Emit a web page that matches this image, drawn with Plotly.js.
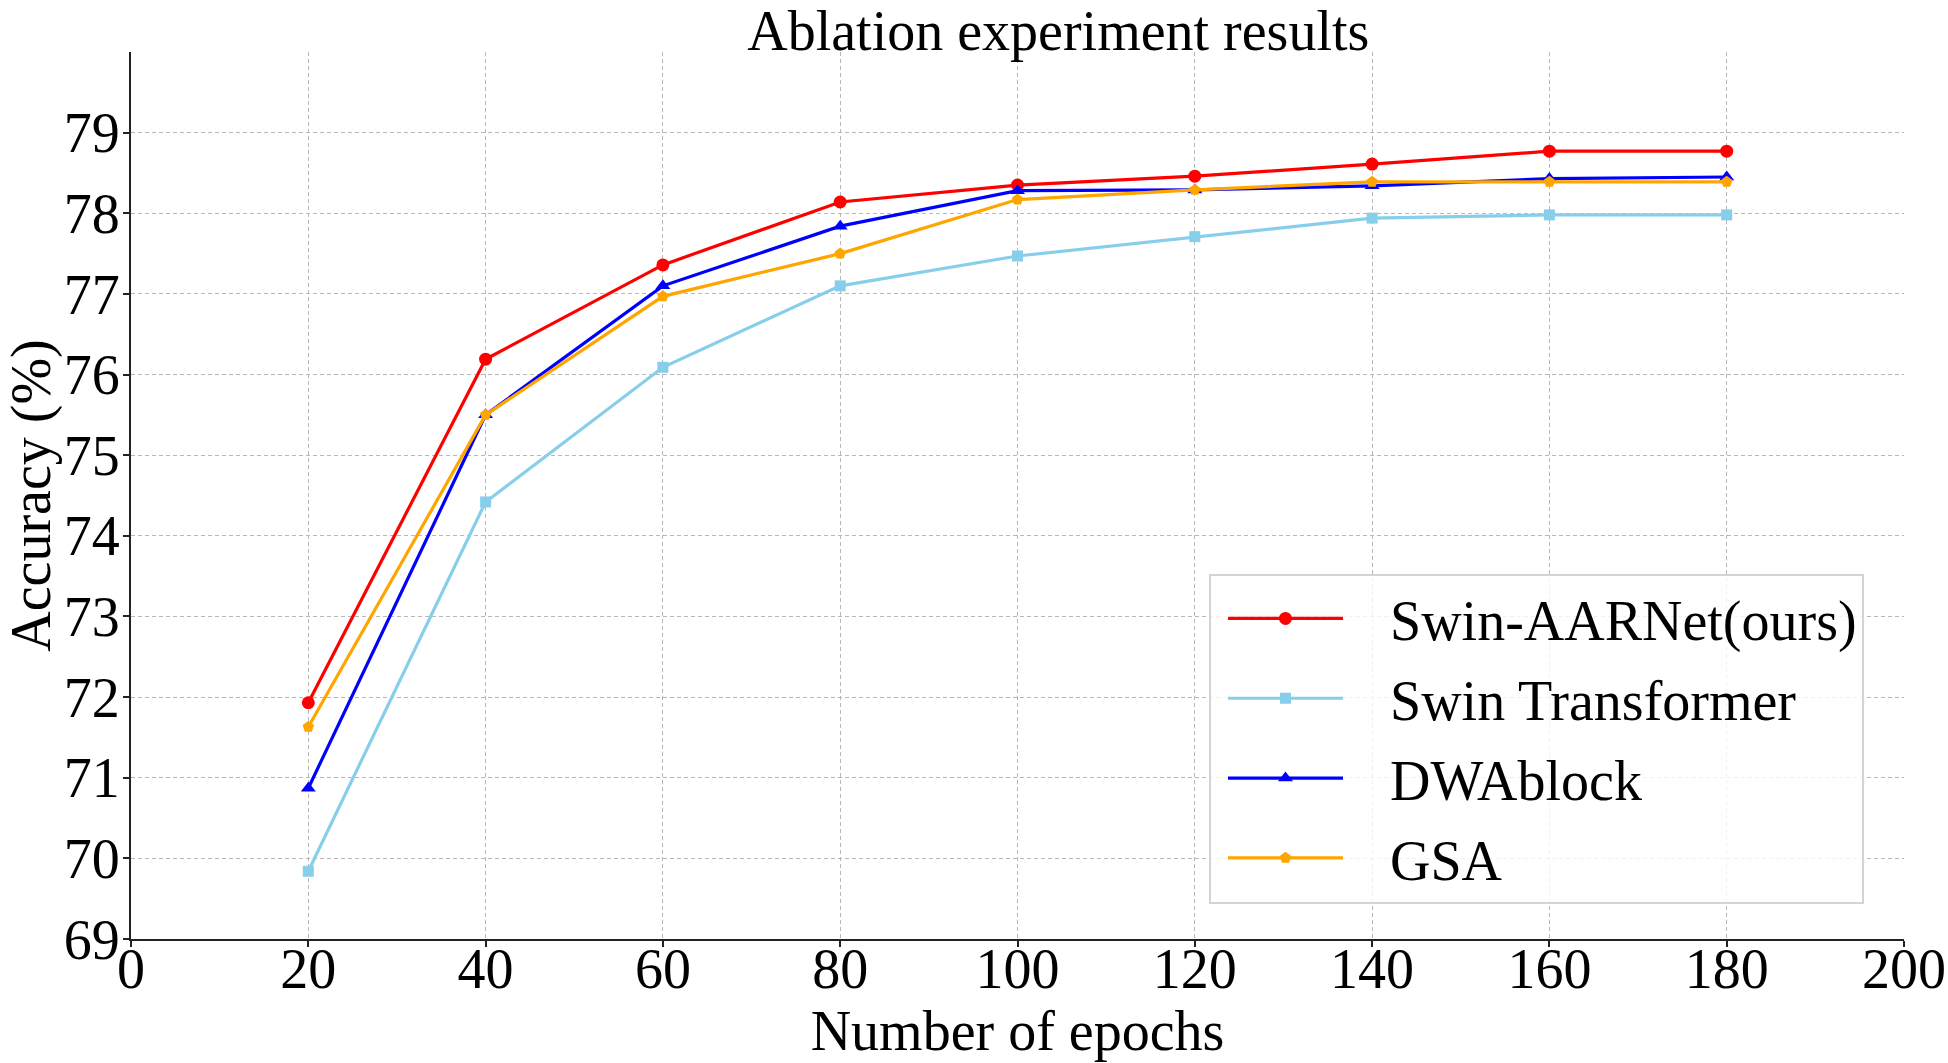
<!DOCTYPE html>
<html>
<head>
<meta charset="utf-8">
<script src="https://cdn.plot.ly/plotly-3.0.1.min.js"></script>
<style>
  html, body { margin: 0; padding: 0; background: #ffffff; }
  #chart { width: 1948px; height: 1063px; }
</style>
</head>
<body>
<div id="chart"></div>
<script>
// ---- data ----
const epochs = [20, 40, 60, 80, 100, 120, 140, 160, 180];
const swinAARNet = [71.93, 76.19, 77.36, 78.14, 78.35, 78.46, 78.61, 78.77, 78.77];
const swinTransformer = [69.84, 74.42, 76.09, 77.10, 77.47, 77.71, 77.94, 77.98, 77.98];
const dwaBlock = [70.87, 75.50, 77.10, 77.84, 78.28, 78.29, 78.34, 78.43, 78.45];
const gsa = [71.63, 75.50, 76.97, 77.50, 78.17, 78.29, 78.39, 78.39, 78.39];

const seriesNames = ['Swin-AARNet(ours)', 'Swin Transformer', 'DWAblock', 'GSA'];
const xTicks = [0, 20, 40, 60, 80, 100, 120, 140, 160, 180, 200];
const yTicks = [69, 70, 71, 72, 73, 74, 75, 76, 77, 78, 79];

const FONT = '"Liberation Serif", "Times New Roman", Times, serif';
const PAD = '\u00a0\u00a0\u00a0';

function mk(y, name, color, symbol, size, group) {
  return {
    x: epochs, y: y, name: PAD + name, type: 'scatter', mode: 'lines+markers',
    line: { color: color, width: 3.2 },
    marker: { color: color, symbol: symbol, size: size, line: { width: 0 } },
    legendgroup: group
  };
}

const traces = [
  mk(swinAARNet, seriesNames[0], '#ff0000', 'circle', 13, 'g1'),
  mk(swinTransformer, seriesNames[1], '#87ceeb', 'square', 11, 'g2'),
  mk(dwaBlock, seriesNames[2], '#0000ff', 'triangle-up', 13, 'g3'),
  mk(gsa, seriesNames[3], '#ffa500', 'pentagon', 12, 'g4')
];

const layout = {
  width: 1948, height: 1063,
  margin: { l: 131, r: 44, t: 52, b: 124 },
  paper_bgcolor: '#ffffff', plot_bgcolor: '#ffffff',
  font: { family: FONT, size: 56, color: '#000000' },
  title: {
    text: 'Ablation experiment results',
    font: { family: FONT, size: 56, color: '#000000' },
    x: 0.523, xanchor: 'center', xref: 'paper',
    y: 0.971, yanchor: 'middle', yref: 'container'
  },
  xaxis: {
    range: [0, 200], tickvals: xTicks, ticktext: xTicks.map(String),
    showline: true, linecolor: '#222222', linewidth: 2,
    ticks: 'outside', ticklen: 6, tickwidth: 2, tickcolor: '#222222',
    showgrid: true, gridcolor: '#b8b8b8', gridwidth: 1, griddash: '4px,3px',
    zeroline: false, mirror: false,
    ticklabeloverflow: 'allow', ticklabelstandoff: -26,
    tickfont: { family: FONT, size: 56, color: '#000000' },
    title: { text: 'Number of epochs', font: { family: FONT, size: 56, color: '#000000' }, standoff: 10 }
  },
  yaxis: {
    range: [69, 80], tickvals: yTicks, ticktext: yTicks.map(String),
    showline: true, linecolor: '#222222', linewidth: 2,
    ticks: 'outside', ticklen: 6, tickwidth: 2, tickcolor: '#222222',
    showgrid: true, gridcolor: '#b8b8b8', gridwidth: 1, griddash: '4px,3px',
    zeroline: false, mirror: false,
    ticklabeloverflow: 'allow', ticklabelstandoff: -8,
    tickfont: { family: FONT, size: 56, color: '#000000' },
    title: { text: 'Accuracy (%)', font: { family: FONT, size: 56, color: '#000000' }, standoff: 28 }
  },
  showlegend: true,
  legend: {
    x: 0.608, y: 0.412, xanchor: 'left', yanchor: 'top',
    bgcolor: 'rgba(255,255,255,0.8)', bordercolor: '#d4d4d4', borderwidth: 2,
    font: { family: FONT, size: 56, color: '#000000' },
    itemwidth: 115, indentation: 12, tracegroupgap: 4, traceorder: 'grouped'
  }
};

Plotly.newPlot('chart', traces, layout, { displayModeBar: false, staticPlot: true });
</script>
</body>
</html>
